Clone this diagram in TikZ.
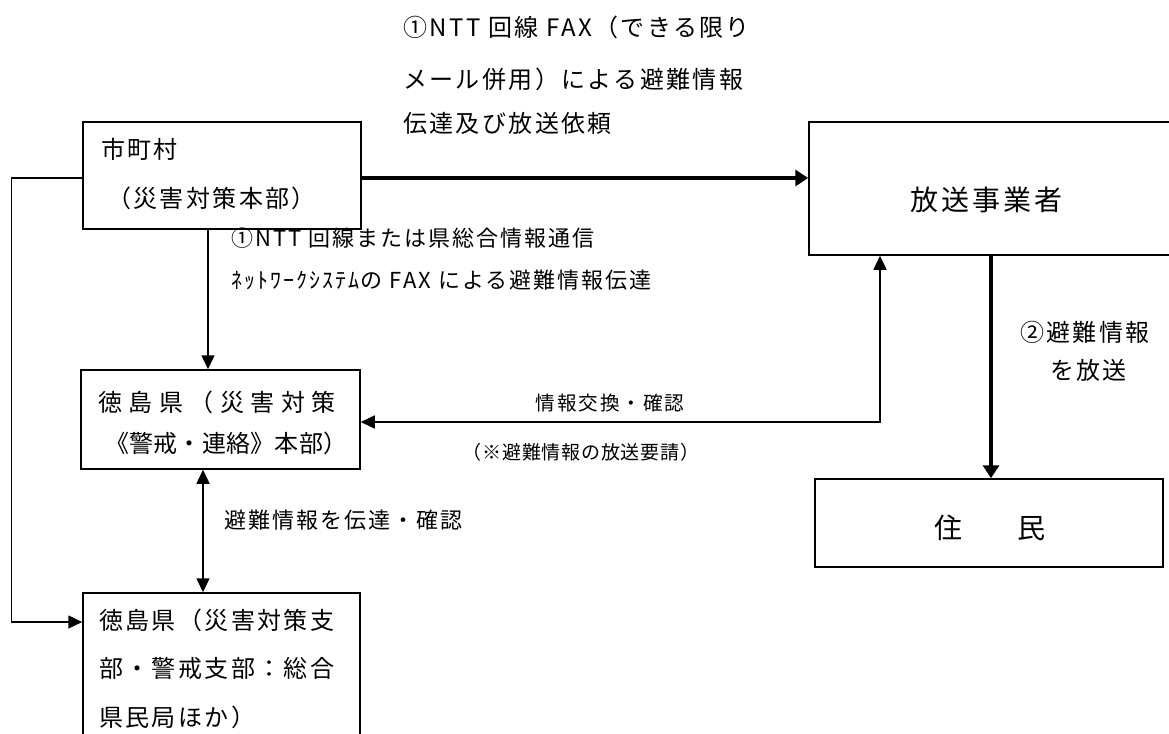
\documentclass[tikz,border=0pt]{standalone}
\usepackage{fontspec}
\setmainfont{Noto Sans CJK JP}
\usetikzlibrary{arrows.meta}
\newcommand\jfont[2]{\fontsize{#1}{#1}\selectfont\addfontfeatures{LetterSpace=#2}}
\begin{document}
\begin{tikzpicture}[x=1pt,y=-1pt,
  box/.style={draw=black,line width=1.5pt,rectangle,inner sep=0pt},
  txt/.style={inner sep=0pt,anchor=base west},
  ctxt/.style={inner sep=0pt,anchor=base},
  thin/.style={line width=1.5pt,-{Triangle[length=14pt,width=13pt]}},
  both/.style={line width=1.5pt,{Triangle[length=14pt,width=13pt]}-{Triangle[length=14pt,width=13pt]}},
  thickarr/.style={line width=4.5pt,-{Triangle[length=13pt,width=16pt]}}]
\useasboundingbox (0,0) rectangle (1169,733);
\clip (0,0) rectangle (1169,733);
\fill[white] (0,0) rectangle (1169,733);

% boxes
\node[box,minimum width=278pt,minimum height=107pt] (city) at (222,175.5) {};
\node[box,minimum width=371pt,minimum height=133pt] (bc) at (994.5,188.5) {};
\node[box,minimum width=279pt,minimum height=99pt] (pref) at (220.5,419.5) {};
\node[box,minimum width=348pt,minimum height=88pt] (res) at (989,523) {};
\node[box,minimum width=277pt,minimum height=152pt] (branch) at (221.5,669) {};

% texts
\node[txt,font=\jfont{24}{10}] (t1a) at (403,37) {①NTT 回線 FAX（できる限り};
\node[txt,font=\jfont{24}{10}] (t1b) at (403,89) {メール併用）による避難情報};
\node[txt,font=\jfont{24}{10}] (t1c) at (403,132) {伝達及び放送依頼};

\node[txt,font=\jfont{24}{10}] (c1) at (101,158) {市町村};
\node[txt,font=\jfont{24}{10}] (c2) at (107,207) {（災害対策本部）};

\node[txt,font=\jfont{22}{9}] (l2a) at (231,246.4) {①NTT 回線または県総合情報通信};
\node[txt,font=\jfont{22}{9}] (l2b) at (231,288.4) {ﾈｯﾄﾜｰｸｼｽﾃﾑの FAX による避難情報伝達};

\node[txt,font=\jfont{24}{27}] (p1) at (98,411) {徳島県（災害対策};
\node[txt,font=\jfont{24}{1}] (p2) at (105,452) {《警戒・連絡》本部）};

\node[ctxt,font=\jfont{19.6}{10}] (x1) at (610,410.4) {情報交換・確認};
\node[ctxt,font=\jfont{19}{4}] (x2) at (581,459) {（※避難情報の放送要請）};

\node[txt,font=\jfont{22}{9}] (d1) at (224,528.4) {避難情報を伝達・確認};

\node[txt,font=\jfont{28}{11}] (b1) at (910,210.6) {放送事業者};
\node[txt,font=\jfont{24}{10}] (r1) at (1020,341) {②避難情報};
\node[txt,font=\jfont{24}{10}] (r2) at (1050,379) {を放送};

\node[txt,font=\jfont{28}{0}] (z1) at (934,538.6) {住\hspace{55pt}民};

\node[txt,font=\jfont{24}{10}] (s1) at (99,629) {徳島県（災害対策支};
\node[txt,font=\jfont{24}{10}] (s2) at (99,677) {部・警戒支部：総合};
\node[txt,font=\jfont{24}{10}] (s3) at (99,726) {県民局ほか）};

% connectors
\draw[thickarr] ([yshift=-2.5pt]city.east) -- ([yshift=-2.5pt]city.east -| bc.west);
\draw[thin] ([xshift=-14pt]city.south) -- ([xshift=-14pt]city.south |- pref.north);
\draw[both] ([xshift=-17.5pt]pref.south) -- ([xshift=-17.5pt]pref.south |- branch.north);
\draw[thin] ([yshift=-2.5pt]city.west) -- ++(-71,0) |- ([yshift=47pt]branch.west);
\draw[both] ([xshift=-114.5pt]bc.south) |- ([yshift=-2.5pt]pref.east);
\draw[thickarr] ([xshift=2pt]res.north |- bc.south) -- ([xshift=2pt]res.north);
\end{tikzpicture}
\end{document}
